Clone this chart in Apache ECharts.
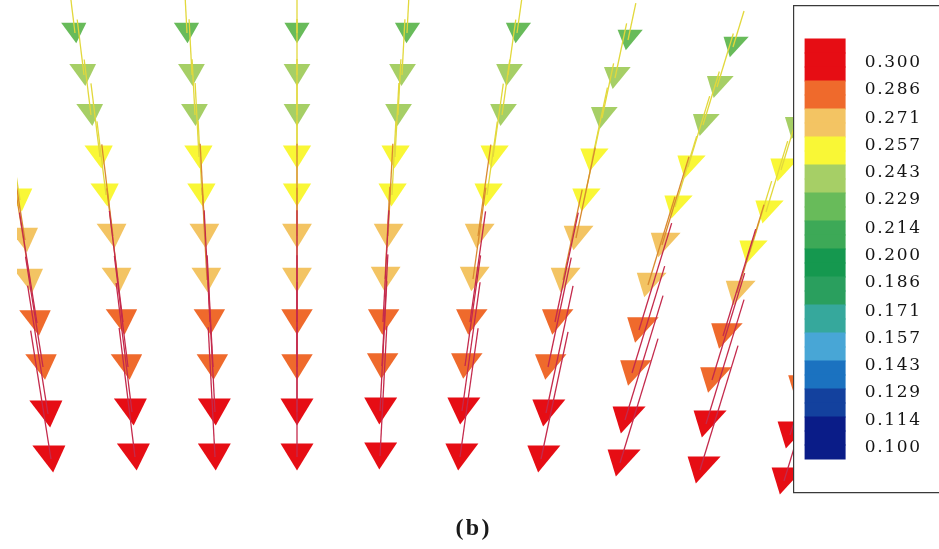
<!DOCTYPE html>
<html>
<head>
<meta charset="utf-8">
<script src="https://cdn.jsdelivr.net/npm/echarts@6/dist/echarts.min.js"></script>
<style>
  html, body { margin: 0; padding: 0; background: #ffffff; }
  #chart { width: 939px; height: 549px; }
</style>
</head>
<body>
<div id="chart"></div>
<script>
// Velocity vectors, one inner list per column of particles (top to bottom).
// x, y in plot units; speed in the legend's units; tilt in degrees from vertical (+ = toward +x).
const xs = [
  [2.0, 2.5, 3.0, 3.7, 4.3, 4.8, 5.1],
  [7.5, 8.4, 9.1, 10.0, 10.6, 11.3, 11.8, 12.3, 12.8, 13.2, 13.5],
  [18.7, 19.2, 19.5, 19.9, 20.2, 20.5, 20.7, 21.0, 21.3, 21.5, 21.5],
  [29.7, 29.7, 29.7, 29.7, 29.7, 29.7, 29.7, 29.7, 29.7, 29.7, 29.7],
  [40.7, 40.2, 39.8, 39.5, 39.2, 38.8, 38.5, 38.3, 38.2, 38.0, 38.0],
  [51.7, 50.8, 50.2, 49.3, 48.7, 47.8, 47.3, 47.0, 46.5, 46.2, 46.0],
  [62.8, 61.5, 60.2, 59.2, 58.4, 57.6, 56.3, 55.5, 54.8, 54.6, 54.1],
  [73.3, 71.7, 70.3, 68.8, 67.5, 66.2, 64.8, 63.9, 63.2, 62.5, 62.0],
  [79.5, 78.1, 76.6, 75.0, 73.7, 72.3, 71.2, 70.6, 70.0],
  [80.0, 79.0, 78.4]
];
const ys = [
  [34.9, 30.9, 26.8, 22.6, 18.2, 13.5, 9.0],
  [51.6, 47.4, 43.4, 39.2, 35.4, 31.3, 26.9, 22.7, 18.2, 13.7, 9.2],
  [51.6, 47.4, 43.4, 39.2, 35.4, 31.3, 26.9, 22.7, 18.2, 13.7, 9.2],
  [51.6, 47.4, 43.4, 39.2, 35.4, 31.3, 26.9, 22.7, 18.2, 13.7, 9.2],
  [51.6, 47.4, 43.4, 39.2, 35.4, 31.3, 27.0, 22.7, 18.3, 13.8, 9.3],
  [51.6, 47.4, 43.4, 39.2, 35.4, 31.3, 27.0, 22.7, 18.3, 13.8, 9.2],
  [50.9, 47.1, 43.1, 38.9, 34.9, 31.1, 26.9, 22.7, 18.2, 13.6, 9.0],
  [50.2, 46.2, 42.4, 38.2, 34.2, 30.4, 26.4, 21.9, 17.6, 12.9, 8.6],
  [42.1, 37.9, 33.7, 29.7, 25.6, 21.3, 16.9, 12.5, 7.9],
  [16.1, 11.4, 6.8]
];
const speeds = [
  [0.257, 0.271, 0.271, 0.286, 0.286, 0.300, 0.300],
  [0.229, 0.243, 0.243, 0.257, 0.257, 0.271, 0.271, 0.286, 0.286, 0.300, 0.300],
  [0.229, 0.243, 0.243, 0.257, 0.257, 0.271, 0.271, 0.286, 0.286, 0.300, 0.300],
  [0.229, 0.243, 0.243, 0.257, 0.257, 0.271, 0.271, 0.286, 0.286, 0.300, 0.300],
  [0.229, 0.243, 0.243, 0.257, 0.257, 0.271, 0.271, 0.286, 0.286, 0.300, 0.300],
  [0.229, 0.243, 0.243, 0.257, 0.257, 0.271, 0.271, 0.286, 0.286, 0.300, 0.300],
  [0.229, 0.243, 0.243, 0.257, 0.257, 0.271, 0.271, 0.286, 0.286, 0.300, 0.300],
  [0.229, 0.243, 0.243, 0.257, 0.257, 0.271, 0.271, 0.286, 0.286, 0.300, 0.300],
  [0.243, 0.257, 0.257, 0.257, 0.271, 0.286, 0.286, 0.300, 0.300],
  [0.286, 0.300, 0.300]
];
const tilts = [9, 7, 3, 0, -3, -8, -12, -17, -17, -17];

// Contour legend: level labels (top to bottom) and the 14 colour bands between them
const legendTicks = ['0.300', '0.286', '0.271', '0.257', '0.243', '0.229', '0.214', '0.200',
                     '0.186', '0.171', '0.157', '0.143', '0.129', '0.114', '0.100'];
const bandColors = ['#e60d14', '#ef6a2c', '#f3c463', '#f9f736', '#a6cf66', '#68bb5a', '#3da957',
                    '#15984f', '#2a9f5e', '#36a89c', '#48a6d6', '#1b72c0', '#13419e', '#0a1c88'];

const levelTop = Number(legendTicks[0]);
const levelBottom = Number(legendTicks[legendTicks.length - 1]);
const step = (levelTop - levelBottom) / (legendTicks.length - 1);

// Half-level pieces so that the outer bands are one and a half levels tall
const pieces = [];
for (let j = 0; j < 30; j++) {
  const c = levelTop - (j - 1) * step / 2;
  const ci = j <= 2 ? 0 : (j >= 27 ? 13 : Math.floor((j - 3) / 2) + 1);
  pieces.push({ gte: c - step / 4, lt: c + step / 4, color: bandColors[ci] });
}

const arrows = [];
xs.forEach(function (col, c) {
  col.forEach(function (x, i) {
    arrows.push([x, ys[c][i], speeds[c][i], tilts[c]]);
  });
});

function spaced(str) {
  return str.split('').map(function (ch) {
    return ch === '.' ? '{p|.}' : '{d|' + ch + '}';
  }).join('');
}

function tailColor(v) {
  if (v >= 0.28) return '#c42a4c';
  if (v >= 0.265) return '#d98a30';
  return '#e2d83c';
}

const serif = "'Liberation Serif', 'Times New Roman', serif";
const wideSerif = "'DejaVu Serif', 'Liberation Serif', serif";

const chart = echarts.init(document.getElementById('chart'), null, { renderer: 'canvas' });
chart.setOption({
  backgroundColor: '#ffffff',
  animation: false,
  title: {
    text: '{a|(}{b|b}{a|)}',
    left: 455,
    top: 517,
    padding: 0,
    textStyle: {
      rich: {
        a: { width: 9, align: 'center', fontFamily: serif, fontWeight: 'bold', fontSize: 24, color: '#1a1a1a' },
        b: { width: 17, align: 'center', fontFamily: serif, fontWeight: 'bold', fontSize: 24, color: '#1a1a1a' }
      }
    }
  },
  grid: [
    { left: 17, top: 0, right: 0, bottom: 0, outerBoundsMode: 'none' },
    { left: 804, top: 63, width: 41, height: 385, outerBoundsMode: 'none' }
  ],
  xAxis: [
    { type: 'value', gridIndex: 0, min: 1.7, max: 93.9, show: false },
    { type: 'value', gridIndex: 1, min: 0, max: 1, show: false }
  ],
  yAxis: [
    { type: 'value', gridIndex: 0, min: 0, max: 54.9, show: false },
    {
      type: 'value', gridIndex: 1, position: 'right', z: 10,
      min: levelBottom,
      max: levelTop,
      axisLine: { show: false }, axisTick: { show: false }, splitLine: { show: false },
      axisLabel: {
        margin: 19,
        customValues: legendTicks.map(Number),
        formatter: function (v) { return spaced(v.toFixed(3)); },
        rich: {
          d: { width: 12.5, align: 'center', fontFamily: wideSerif, fontSize: 17, color: '#141414' },
          p: { width: 7, align: 'center', fontFamily: wideSerif, fontSize: 17, color: '#141414' }
        }
      }
    }
  ],
  visualMap: {
    type: 'piecewise',
    seriesIndex: 0,
    dimension: 2,
    pieces: pieces,
    orient: 'vertical',
    left: 793,
    top: 5,
    itemWidth: 41,
    itemHeight: 15,
    itemGap: -1,
    itemSymbol: 'rect',
    showLabel: false,
    selectedMode: false,
    hoverLink: false,
    padding: [33, 200, 33, 11],
    backgroundColor: '#ffffff',
    borderColor: '#3a3a3a',
    borderWidth: 1.2
  },
  series: [{
    type: 'custom',
    coordinateSystem: 'cartesian2d',
    xAxisIndex: 0,
    yAxisIndex: 0,
    clip: true,
    data: arrows,
    encode: { x: 0, y: 1 },
    renderItem: function (params, api) {
      const p = api.coord([api.value(0), api.value(1)]);
      const v = api.value(2);
      const a = api.value(3) * Math.PI / 180;
      const dx = Math.sin(a), dy = Math.cos(a), t = Math.tan(a);
      const w = v * 110, h = v * 90, L = (v - 0.2) * 1300;
      // sheared arrowhead: horizontal base, tip displaced along the flow
      const baseX = p[0] - t * h / 2, baseY = p[1] - h / 2;
      return {
        type: 'group',
        children: [
          {
            type: 'polygon',
            shape: { points: [
              [p[0] + t * h / 2, p[1] + h / 2],
              [baseX - w / 2, baseY],
              [baseX + w / 2, baseY]
            ] },
            style: { fill: api.visual('color') }
          },
          {
            type: 'line',
            shape: { x1: p[0], y1: p[1], x2: p[0] - dx * L, y2: p[1] - dy * L },
            style: { stroke: tailColor(v), lineWidth: 1.3 }
          }
        ]
      };
    }
  }]
});
</script>
</body>
</html>
